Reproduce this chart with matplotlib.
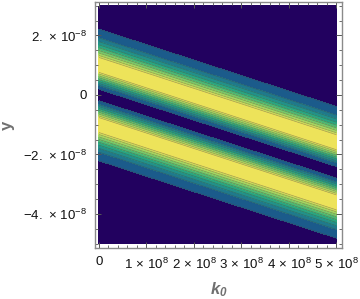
import matplotlib
matplotlib.use('Agg')
import matplotlib.pyplot as plt
import numpy as np
from matplotlib.ticker import FixedLocator

plt.rcParams['font.family'] = ['Liberation Sans', 'DejaVu Sans']
plt.rcParams['mathtext.fontset'] = 'custom'
plt.rcParams['mathtext.rm'] = 'Liberation Sans'
plt.rcParams['mathtext.it'] = 'Liberation Sans:italic'
plt.rcParams['mathtext.bf'] = 'Liberation Sans:bold:italic'

# plot range
k0_lim = [0, 5e8]
y_lim = [-5e-8, 3e-8]

# band parameters: intensity ~ u^2 exp(-u^2), u = (y + slope*k0)/width
slope = 5.2e-17
width = 1.0e-8

# contour levels as fraction of the maximum
level_frac = [0.0, 0.1, 0.25, 0.35, 0.45, 0.55, 0.65, 0.74, 0.82, 0.88, 1.0]
band_colors = ['#22015f', '#1b5b8b', '#1f7a8c', '#22918a', '#2aa681',
               '#4cb875', '#77c96a', '#a2d862', '#c9df5c', '#ede35a']

x_ticks = [0, 1e8, 2e8, 3e8, 4e8, 5e8]
x_labels = ['0', r'$1\,\times\,10^{8}$', r'$2\,\times\,10^{8}$', r'$3\,\times\,10^{8}$',
            r'$4\,\times\,10^{8}$', r'$5\,\times\,10^{8}$']
y_ticks = [-4e-8, -2e-8, 0, 2e-8]
y_labels = [r'$-4.\,\times\,10^{-8}$', r'$-2.\,\times\,10^{-8}$', '0',
            r'$2.\,\times\,10^{-8}$']

k0 = np.linspace(k0_lim[0], k0_lim[1], 400)
yy = np.linspace(y_lim[0], y_lim[1], 400)
K, Y = np.meshgrid(k0, yy)
u = (Y + slope * K) / width
f = u**2 * np.exp(-u**2)
fmax = np.exp(-1.0)
levels = [v * fmax for v in level_frac]
levels[-1] = fmax * 1.01

fig = plt.figure(figsize=(3.6, 2.99), dpi=100)
ax = fig.add_axes([95 / 360, 51 / 299, 247 / 360, 246 / 299])

ax.contourf(K, Y, f, levels=levels, colors=band_colors)
ax.contour(K, Y, f, levels=levels[1:-1], colors='#444444', linewidths=0.5, alpha=0.45)

# Mathematica-style padding around the plotted region
ax.set_xlim(-0.084e8, 5.116e8)
ax.set_ylim(-5.143e-8, 3.126e-8)

ax.set_xticks(x_ticks)
ax.set_xticklabels(x_labels)
ax.set_yticks(y_ticks)
ax.set_yticklabels(y_labels)
ax.xaxis.set_minor_locator(FixedLocator(np.arange(0, 5.01e8, 0.2e8)))
ax.yaxis.set_minor_locator(FixedLocator(np.arange(-5e-8, 3.01e-8, 0.5e-8)))

for s in ax.spines.values():
    s.set_color('#8a8a8a')
    s.set_linewidth(1.0)
ax.tick_params(which='both', direction='in', top=True, right=True, color='#555555',
               labelsize=9.5, labelcolor='#111111')
ax.tick_params(which='major', length=4.5, width=0.7, pad=6)
ax.tick_params(which='minor', length=2.5, width=0.6)

ax.set_xlabel(r'$\mathbf{k_0}$', fontsize=12, color='#707070', labelpad=6)
ax.set_ylabel('y', fontsize=12, color='#707070', fontweight='bold', labelpad=6)

fig.savefig('out.png', dpi=100)
